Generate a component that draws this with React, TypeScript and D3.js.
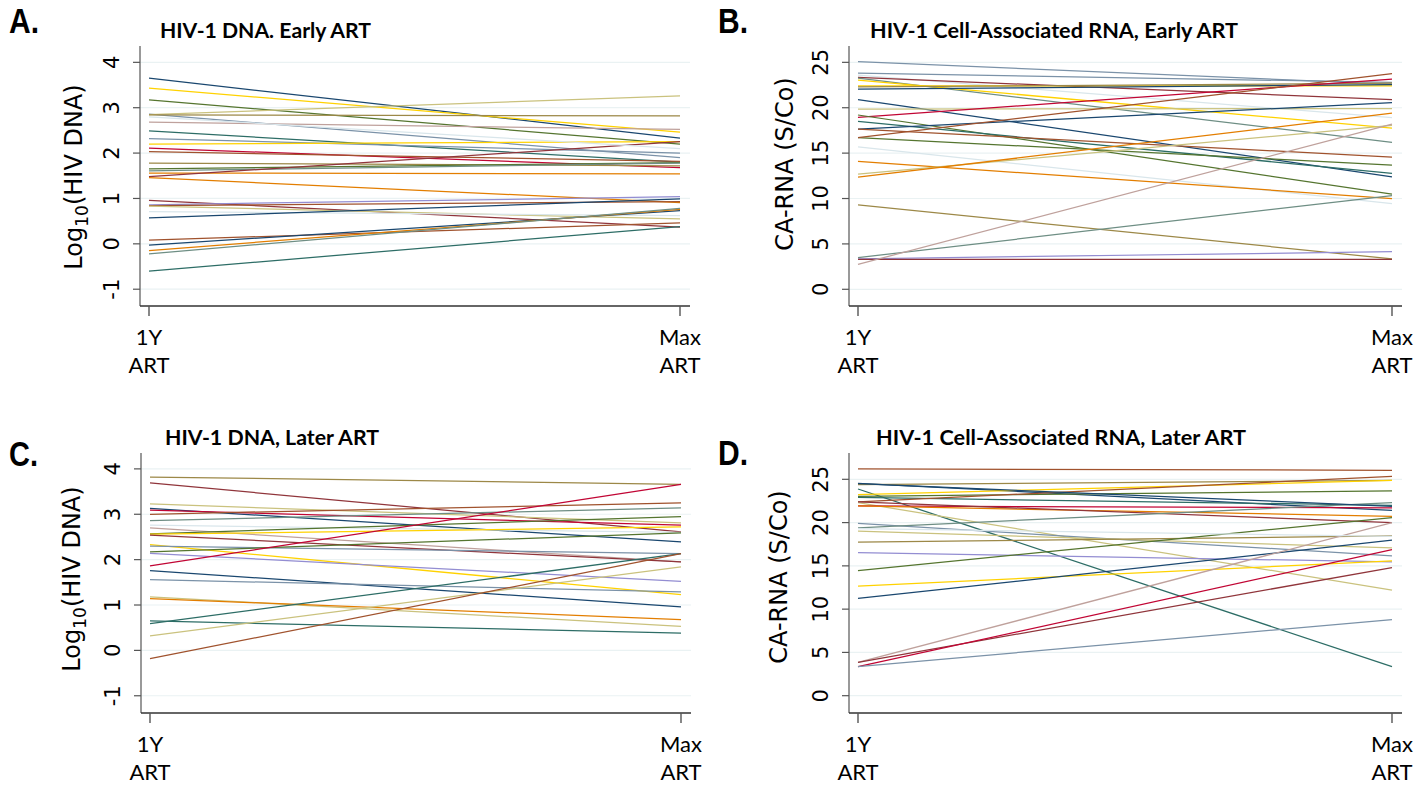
import React from 'react';
import * as d3 from 'd3';

// Stata s2color palette
const palette: Record<string, string> = {
  navy: '#1a476f', maroon: '#90353b', forest: '#55752f', dkorange: '#e37e00',
  teal: '#6e8e84', cranberry: '#c10534', lavender: '#938dd2', khaki: '#cac27e',
  sienna: '#a0522d', emidblue: '#7b92a8', emerald: '#2d6d66', brown: '#9c8847',
  erose: '#bfa19c', gold: '#ffd200', bluishgray: '#d9e6eb',
};

const timepoints = ['1Y', 'Max'];
const timeLabels = [['1Y', 'ART'], ['Max', 'ART']];
const dnaTicks = [-1, 0, 1, 2, 3, 4];
const rnaTicks = [0, 5, 10, 15, 20, 25];

// A. HIV-1 DNA, early ART (log10)
const aStart = [3.65, 3.43, 3.17, 2.86, 2.85, 2.84, 2.68, 2.49, 2.32, 2.2, 2.11, 2.03, 1.78, 1.65, 1.61, 1.56, 1.48, 1.46, 0.96, 0.86, 0.84, 0.83, 0.71, 0.57, 0.08, -0.03, -0.15, -0.22, -0.6, 2.8];
const aEnd = [2.33, 2.46, 2.2, 1.9, 3.26, 2.82, 2.52, 1.8, 2.0, 2.25, 1.68, 1.82, 1.72, 1.79, 1.78, 1.54, 2.25, 0.91, 0.37, 1.04, 0.93, 0.55, 0.62, 0.99, 0.46, 0.73, 0.76, 0.78, 0.38, 2.1];
const aColor = ['navy', 'gold', 'forest', 'emidblue', 'khaki', 'brown', 'erose', 'emerald', 'emidblue', 'gold', 'cranberry', 'sienna', 'brown', 'forest', 'teal', 'dkorange', 'maroon', 'dkorange', 'maroon', 'lavender', 'sienna', 'khaki', 'bluishgray', 'navy', 'sienna', 'navy', 'dkorange', 'teal', 'emerald', 'bluishgray'];

// B. CA-RNA, early ART
const bStart = [25.07, 23.8, 23.6, 23.35, 23.27, 23.05, 22.4, 22.3, 22.05, 20.9, 19.85, 18.93, 19.2, 18.5, 17.65, 17.65, 16.72, 16.72, 15.7, 14.08, 12.68, 12.35, 9.3, 3.49, 3.35, 3.3, 2.75];
const bEnd = [22.6, 22.8, 18.9, 20.88, 16.18, 17.76, 22.4, 22.7, 22.55, 12.39, 19.9, 23.16, 10.48, 12.76, 20.55, 14.56, 13.68, 23.75, 9.45, 10.0, 18.05, 19.4, 3.35, 10.33, 4.15, 3.3, 18.2];
const bColor = ['emidblue', 'emidblue', 'bluishgray', 'maroon', 'teal', 'gold', 'gold', 'brown', 'navy', 'navy', 'khaki', 'cranberry', 'forest', 'emerald', 'navy', 'sienna', 'forest', 'sienna', 'bluishgray', 'dkorange', 'khaki', 'dkorange', 'brown', 'teal', 'lavender', 'maroon', 'erose'];

// C. HIV-1 DNA, later ART (log10)
const cStart = [3.82, 3.69, 3.23, 3.13, 3.09, 3.0, 2.86, 2.76, 2.7, 2.57, 2.56, 2.54, 2.33, 2.3, 2.17, 2.14, 1.86, 1.76, 1.56, 1.18, 1.14, 0.65, 0.59, 0.32, -0.18];
const cEnd = [3.66, 2.61, 2.81, 2.39, 2.76, 3.25, 3.14, 2.6, 1.95, 2.95, 2.72, 1.95, 1.23, 2.13, 2.59, 1.52, 3.66, 0.96, 1.29, 0.53, 0.68, 0.38, 2.13, 1.84, 2.13];
const cColor = ['brown', 'maroon', 'khaki', 'navy', 'cranberry', 'sienna', 'teal', 'bluishgray', 'erose', 'forest', 'gold', 'maroon', 'gold', 'emidblue', 'forest', 'lavender', 'cranberry', 'navy', 'emidblue', 'khaki', 'dkorange', 'emerald', 'emerald', 'khaki', 'sienna'];

// D. CA-RNA, later ART
const dStart = [26.2, 24.54, 24.4, 23.88, 23.23, 23.04, 22.9, 22.4, 22.3, 21.92, 21.92, 22.4, 19.9, 19.4, 19.0, 17.73, 16.54, 14.46, 12.65, 11.23, 3.85, 3.85, 3.35, 3.35, 24.5, 19.3];
const dEnd = [26.04, 21.4, 24.88, 3.35, 24.88, 23.65, 22.0, 25.35, 12.19, 21.7, 20.73, 20.0, 16.15, 22.3, 17.08, 18.46, 15.46, 20.58, 15.58, 17.96, 20.0, 14.8, 16.88, 8.8, 21.88, 18.4];
const dColor = ['sienna', 'navy', 'brown', 'emerald', 'gold', 'forest', 'emerald', 'sienna', 'khaki', 'cranberry', 'dkorange', 'maroon', 'emidblue', 'teal', 'khaki', 'brown', 'lavender', 'forest', 'gold', 'navy', 'erose', 'maroon', 'cranberry', 'emidblue', 'navy', 'bluishgray'];

const panels = [
  { letter: 'A.', title: 'HIV-1 DNA. Early ART', start: aStart, end: aEnd, color: aColor, ticks: dnaTicks, dna: true,
    left: 140, right: 690, top: 46, bottom: 306, domain: [-1.37, 4.36],
    letterX: 9, letterY: 33, letterW: 30, titleX: 160, titleY: 37.5, titleW: 211, yTitleX: 82, yTitleY: 177 },
  { letter: 'B.', title: 'HIV-1 Cell-Associated RNA, Early ART', start: bStart, end: bEnd, color: bColor, ticks: rnaTicks, dna: false,
    left: 849, right: 1402, top: 46, bottom: 306, domain: [-1.84, 26.8],
    letterX: 718, letterY: 33, letterW: 30, titleX: 870, titleY: 37.5, titleW: 368, yTitleX: 793, yTitleY: 164 },
  { letter: 'C.', title: 'HIV-1 DNA, Later ART', start: cStart, end: cEnd, color: cColor, ticks: dnaTicks, dna: true,
    left: 141, right: 691, top: 453, bottom: 713, domain: [-1.38, 4.35],
    letterX: 9, letterY: 466, letterW: 29, titleX: 165, titleY: 445, titleW: 214, yTitleX: 80, yTitleY: 579 },
  { letter: 'D.', title: 'HIV-1 Cell-Associated RNA, Later ART', start: dStart, end: dEnd, color: dColor, ticks: rnaTicks, dna: false,
    left: 849, right: 1402, top: 453, bottom: 713, domain: [-2.0, 28.04],
    letterX: 718, letterY: 465, letterW: 30, titleX: 876, titleY: 445, titleW: 370, yTitleX: 787, yTitleY: 577 },
];

const Panel = ({ p }: { p: any }) => {
  const x = d3.scalePoint().domain(timepoints).range([p.left + 9, p.right - 10]);
  const y = d3.scaleLinear().domain(p.domain).range([p.bottom, p.top]);
  const line = d3.line<number>().x((_, i) => x(timepoints[i]) as number).y(d => y(d));

  return (
    <g>
      <text x={p.letterX} y={p.letterY} fontFamily="'Liberation Sans', Arial, sans-serif"
        fontWeight="bold" fontSize={35} textLength={p.letterW} lengthAdjust="spacingAndGlyphs" fill="#000">{p.letter}</text>
      <text x={p.titleX} y={p.titleY} fontFamily="Lato, 'Open Sans', sans-serif" fontWeight="bold" fontSize={21}
        textLength={p.titleW} lengthAdjust="spacingAndGlyphs" fill="#000">{p.title}</text>

      {p.ticks.map((t: number) => (
        <line key={'g' + t} x1={p.left} x2={p.right} y1={y(t)} y2={y(t)} stroke="#eaf2f3" strokeWidth={1.2} />
      ))}

      {p.start.map((s: number, i: number) => (
        <path key={i} d={line([s, p.end[i]]) as string} fill="none" stroke={palette[p.color[i]]} strokeWidth={1.25} />
      ))}

      <line x1={p.left} x2={p.left} y1={p.top} y2={p.bottom} stroke="#555" strokeWidth={1.2} />
      <line x1={p.left} x2={p.right} y1={p.bottom} y2={p.bottom} stroke="#333" strokeWidth={1.6} />

      {p.ticks.map((t: number) => (
        <g key={'t' + t}>
          <line x1={p.left - 7} x2={p.left} y1={y(t)} y2={y(t)} stroke="#555" strokeWidth={1.2} />
          <text transform={`translate(${p.left - 21},${y(t)}) rotate(-90)`} textAnchor="middle"
            fontFamily="'DejaVu Sans', Verdana, sans-serif" fontSize={21} fill="#000">{t}</text>
        </g>
      ))}

      {timepoints.map((tp, i) => (
        <g key={tp}>
          <line x1={x(tp)} x2={x(tp)} y1={p.bottom} y2={p.bottom + 10} stroke="#555" strokeWidth={1.4} />
          <text x={x(tp)} y={p.bottom + 39} textAnchor="middle" fontFamily="Lato, 'Open Sans', sans-serif"
            fontSize={22} fill="#000">{timeLabels[i][0]}</text>
          <text x={x(tp)} y={p.bottom + 67} textAnchor="middle" fontFamily="Lato, 'Open Sans', sans-serif"
            fontSize={22} fill="#000">{timeLabels[i][1]}</text>
        </g>
      ))}

      <text transform={`translate(${p.yTitleX},${p.yTitleY}) rotate(-90)`} textAnchor="middle"
        fontFamily="'DejaVu Sans', Verdana, sans-serif" fontSize={24} fill="#000">
        {p.dna ? (
          <>
            <tspan>Log</tspan>
            <tspan fontSize={17} dy={6}>10</tspan>
            <tspan dy={-6}>(HIV DNA)</tspan>
          </>
        ) : 'CA-RNA (S/Co)'}
      </text>
    </g>
  );
};

export default function App() {
  return (
    <svg width={1416} height={788} style={{ position: 'absolute', left: 0, top: 0, background: '#fff' }}>
      {panels.map(p => <Panel key={p.letter} p={p} />)}
    </svg>
  );
}
